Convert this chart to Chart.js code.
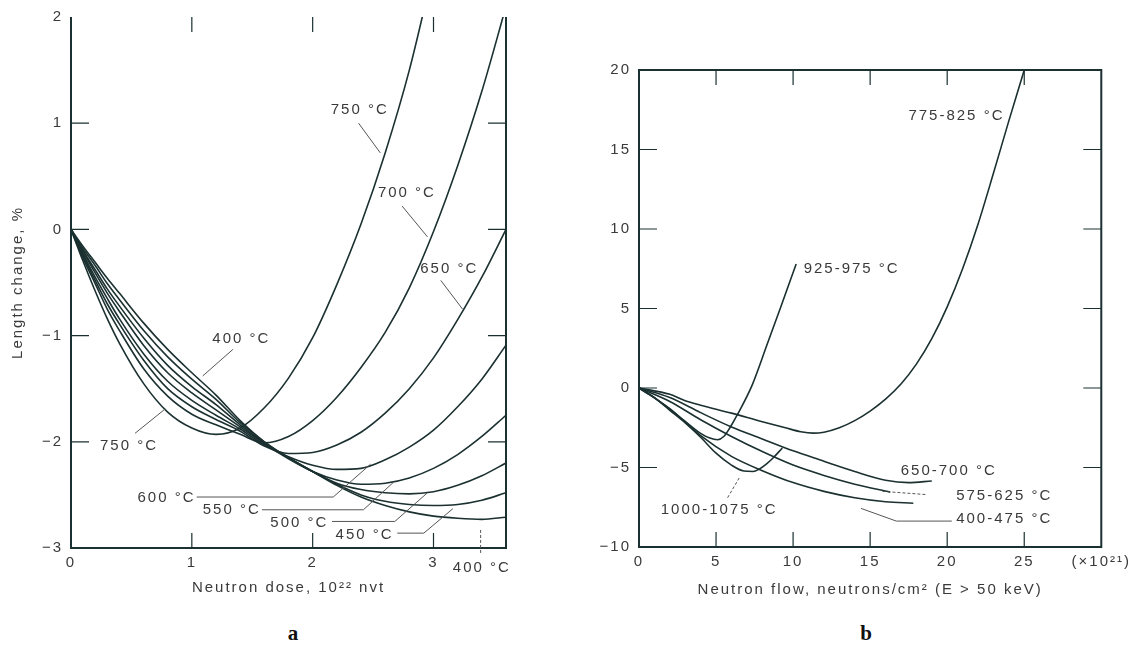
<!DOCTYPE html>
<html>
<head>
<meta charset="utf-8">
<script src="https://cdn.jsdelivr.net/npm/chart.js@4.4.1/dist/chart.umd.min.js"></script>
<style>
  body { margin: 0; background: #fff; width: 1130px; height: 648px; overflow: hidden; position: relative; }
  canvas { position: absolute; top: 0; }
  #panelA { left: 0; }
  #panelB { left: 560px; }
  .tag { position: absolute; top: 621px; font: bold 21px 'Liberation Serif', 'DejaVu Serif', serif; transform: translateX(-50%); color: #111; }
</style>
</head>
<body>
<canvas id="panelA" width="560" height="600"></canvas>
<canvas id="panelB" width="570" height="600"></canvas>
<div class="tag" style="left:293px">a</div>
<div class="tag" style="left:866px">b</div>
<script>
// panel a: length change (%) vs neutron dose (10^22 nvt), one curve per temperature
const doseGrid = [0, 0.1, 0.2, 0.3, 0.4, 0.6, 0.8, 1.0, 1.2, 1.4, 1.6, 1.8, 2.0, 2.2, 2.4, 2.6, 2.8, 3.0, 3.2, 3.4, 3.6];
const change400 = [0, -0.16, -0.31, -0.46, -0.60, -0.88, -1.13, -1.35, -1.56, -1.80, -2.00, -2.15, -2.28, -2.41, -2.52, -2.60, -2.66, -2.70, -2.72, -2.73, -2.71];
const change450 = [0, -0.18, -0.34, -0.51, -0.66, -0.95, -1.20, -1.41, -1.60, -1.82, -2.00, -2.15, -2.28, -2.40, -2.50, -2.56, -2.59, -2.60, -2.59, -2.55, -2.48];
const change500 = [0, -0.20, -0.38, -0.56, -0.72, -1.02, -1.28, -1.48, -1.65, -1.84, -2.01, -2.15, -2.28, -2.39, -2.45, -2.48, -2.49, -2.47, -2.41, -2.32, -2.20];
const change550 = [0, -0.21, -0.41, -0.60, -0.77, -1.09, -1.35, -1.54, -1.70, -1.86, -2.02, -2.16, -2.28, -2.36, -2.40, -2.39, -2.34, -2.25, -2.12, -1.95, -1.75];
const change600 = [0, -0.23, -0.45, -0.65, -0.84, -1.17, -1.43, -1.61, -1.75, -1.88, -2.03, -2.14, -2.22, -2.26, -2.25, -2.17, -2.05, -1.89, -1.67, -1.41, -1.09];
const change650 = [0, -0.25, -0.48, -0.70, -0.89, -1.23, -1.50, -1.67, -1.79, -1.90, -2.04, -2.11, -2.10, -2.03, -1.91, -1.73, -1.50, -1.21, -0.85, -0.45, 0.00];
const change700 = [0, -0.27, -0.51, -0.75, -0.95, -1.31, -1.57, -1.74, -1.84, -1.93, -2.01, -1.95, -1.80, -1.58, -1.30, -0.97, -0.55, -0.02, 0.60, 1.30, 2.10];
const change750 = [0, -0.30, -0.58, -0.84, -1.07, -1.45, -1.72, -1.87, -1.93, -1.87, -1.68, -1.40, -1.02, -0.52, 0.05, 0.72, 1.50, 2.45, null, null, null];
const doseTicks = [0, 1, 2, 3];
const changeTicksA = [-3, -2, -1, 0, 1, 2];

// panel b: length change (%) vs neutron flow (10^21 n/cm2)
const flow775 = [0, 2, 3, 4, 6, 8, 9.5, 10.5, 11.3, 12, 13, 14, 15, 16, 17, 18, 19, 20, 21, 22, 23, 24, 25];
const chg775 = [0, -0.4, -0.8, -1.08, -1.58, -2.12, -2.5, -2.75, -2.84, -2.78, -2.5, -2.05, -1.45, -0.7, 0.25, 1.5, 3.1, 5.1, 7.5, 10.3, 13.5, 16.8, 20];
const flow925 = [0, 1, 2, 3, 4, 4.6, 5.1, 5.5, 5.9, 6.4, 7.35, 8.3, 9.2, 10.2];
const chg925 = [0, -0.6, -1.35, -2.1, -2.85, -3.15, -3.25, -3.05, -2.5, -1.65, 0.2, 2.7, 5.1, 7.8];
const flow1000 = [0, 1, 2, 3, 4, 5, 6, 6.8, 7.4, 7.8, 8.3, 8.7, 9.3];
const chg1000 = [0, -0.6, -1.4, -2.2, -3.1, -4.1, -4.85, -5.22, -5.25, -5.1, -4.75, -4.4, -3.77];
const flow650 = [0, 2, 4, 6, 8, 10, 12, 14, 16, 17.5, 19];
const chg650 = [0, -0.6, -1.55, -2.45, -3.2, -3.95, -4.6, -5.25, -5.8, -5.95, -5.85];
const flow575 = [0, 2, 4, 6, 8, 10, 12, 14, 16.3];
const chg575 = [0, -0.85, -2.0, -3.05, -4.0, -4.85, -5.5, -6.05, -6.55];
const flow400 = [0, 2, 4, 6, 8, 10, 12, 14, 16, 17.8];
const chg400 = [0, -1.3, -3.0, -4.3, -5.2, -5.95, -6.5, -6.9, -7.15, -7.25];
const flowTicks = [0, 5, 10, 15, 20, 25, 30];
const changeTicksB = [-10, -5, 0, 5, 10, 15, 20];

// labels and leader lines, in data units
const notesA = [
    { text: '750 °C', at: [2.39, 1.13], path: [[2.38, 1.0], [2.56, 0.72]] },
    { text: '700 °C', at: [2.78, 0.34], path: [[2.74, 0.22], [2.95, -0.07]] },
    { text: '650 °C', at: [3.13, -0.37], path: [[3.06, -0.48], [3.24, -0.75]] },
    { text: '400 °C', at: [1.41, -1.03], path: [[1.34, -1.13], [1.09, -1.38]] },
    { text: '750 °C', at: [0.48, -2.04], path: [[0.53, -1.92], [0.78, -1.69]] },
    { text: '600 °C', at: [0.79, -2.53], path: [[1.04, -2.52], [2.17, -2.52], [2.48, -2.21]] },
    { text: '550 °C', at: [1.33, -2.64], path: [[1.58, -2.64], [2.42, -2.64], [2.67, -2.38]] },
    { text: '500 °C', at: [1.89, -2.76], path: [[2.16, -2.75], [2.68, -2.75], [2.95, -2.48]] },
    { text: '450 °C', at: [2.43, -2.88], path: [[2.70, -2.86], [2.92, -2.86], [3.16, -2.63]] },
    { text: '400 °C', at: [3.40, -3.19], path: [[3.39, -2.83], [3.39, -3.05]], dash: true }
];
const notesB = [
    { text: '775-825 °C', at: [20.6, 17.1] },
    { text: '925-975 °C', at: [13.8, 7.5] },
    { text: '650-700 °C', at: [20.1, -5.22] },
    { text: '575-625 °C', at: [23.7, -6.8], path: [[15.8, -6.5], [18.6, -6.7]], dash: true },
    { text: '400-475 °C', at: [23.7, -8.25], path: [[14.4, -7.57], [16.7, -8.37], [20.3, -8.37]] },
    { text: '1000-1075 °C', at: [5.2, -7.67], path: [[5.75, -6.9], [6.5, -5.66]], dash: true }
];

const ink = '#1b3030';
const font = "'Liberation Sans', Arial, sans-serif";
Chart.defaults.font.family = font;
Chart.defaults.font.size = 15;
Chart.defaults.color = '#3a3a3a';
Chart.defaults.animation = false;

function pairs(xs, ys) {
    return xs.map((x, i) => ({ x: x, y: ys[i] })).filter(p => p.y !== null);
}

function curve(xs, ys) {
    return {
        data: pairs(xs, ys),
        borderColor: ink,
        borderWidth: 1.6,
        pointRadius: 0,
        fill: false,
        cubicInterpolationMode: 'monotone'
    };
}

function minus(v) {
    return v < 0 ? '\u2212' + (-v) : String(v);
}

// frame, inward tick marks and the curve labels
function makeFrame(cfg) {
    return {
        id: 'frame',
        beforeDraw(chart) {
            chart.ctx.letterSpacing = '2px';
        },
        afterDraw(chart) {
            const ctx = chart.ctx;
            const a = chart.chartArea;
            const sx = chart.scales.x, sy = chart.scales.y;
            const px = v => sx.getPixelForValue(v);
            const py = v => sy.getPixelForValue(v);
            ctx.save();
            ctx.strokeStyle = ink;
            ctx.lineWidth = 2;
            ctx.beginPath();
            if (cfg.closed) {
                ctx.rect(a.left, a.top, a.right - a.left, a.bottom - a.top);
            } else {
                ctx.moveTo(a.left, a.top);
                ctx.lineTo(a.left, a.bottom);
                ctx.lineTo(a.right, a.bottom);
                ctx.lineTo(a.right, a.top);
            }
            ctx.stroke();

            ctx.lineWidth = 1.2;
            ctx.beginPath();
            cfg.xMarks.forEach(v => {
                const x = px(v);
                ctx.moveTo(x, a.bottom); ctx.lineTo(x, a.bottom - 15);
                ctx.moveTo(x, a.top); ctx.lineTo(x, a.top + 15);
            });
            cfg.yMarks.forEach(v => {
                const y = py(v);
                ctx.moveTo(a.left, y); ctx.lineTo(a.left + 18, y);
                ctx.moveTo(a.right, y); ctx.lineTo(a.right - 18, y);
            });
            ctx.stroke();

            ctx.font = '15px ' + font;
            ctx.fillStyle = '#3a3a3a';
            ctx.textAlign = 'center';
            ctx.textBaseline = 'middle';
            cfg.notes.forEach(n => {
                ctx.fillText(n.text, px(n.at[0]), py(n.at[1]));
                if (n.path) {
                    ctx.save();
                    ctx.strokeStyle = '#555';
                    ctx.lineWidth = 1;
                    ctx.setLineDash(n.dash ? [3, 2] : []);
                    ctx.beginPath();
                    n.path.forEach((p, i) => {
                        if (i) ctx.lineTo(px(p[0]), py(p[1]));
                        else ctx.moveTo(px(p[0]), py(p[1]));
                    });
                    ctx.stroke();
                    ctx.restore();
                }
            });
            ctx.restore();
        }
    };
}

function setTicks(list) {
    return s => { s.ticks = list.map(v => ({ value: v })); };
}

new Chart(document.getElementById('panelA'), {
    type: 'line',
    data: {
        datasets: [change400, change450, change500, change550, change600, change650, change700, change750]
            .map(ys => curve(doseGrid, ys))
    },
    options: {
        responsive: false,
        layout: { padding: { top: 13, right: 54, left: 0, bottom: 0 } },
        plugins: { legend: { display: false }, tooltip: { enabled: false } },
        scales: {
            x: {
                type: 'linear', min: 0, max: 3.6,
                grid: { display: false, drawTicks: false }, border: { display: false },
                afterBuildTicks: setTicks(doseTicks),
                afterFit: s => { s.height = 52; },
                ticks: { padding: 6, maxRotation: 0, autoSkip: false },
                title: { display: true, text: 'Neutron dose, 10²² nvt', padding: { top: 0, bottom: 3 } }
            },
            y: {
                min: -3, max: 2,
                grid: { display: false, drawTicks: false }, border: { display: false },
                afterBuildTicks: setTicks(changeTicksA),
                afterFit: s => { s.width = 71; },
                ticks: { padding: 8, autoSkip: false, callback: v => minus(v) },
                title: { display: true, text: 'Length change, %', padding: { top: 9, bottom: 0 } }
            }
        }
    },
    plugins: [makeFrame({ closed: false, xMarks: [1, 2, 3], yMarks: [-2, -1, 0, 1], notes: notesA })]
});

new Chart(document.getElementById('panelB'), {
    type: 'line',
    data: {
        datasets: [
            curve(flow775, chg775),
            curve(flow925, chg925),
            curve(flow1000, chg1000),
            curve(flow650, chg650),
            curve(flow575, chg575),
            curve(flow400, chg400)
        ]
    },
    options: {
        responsive: false,
        layout: { padding: { top: 70, right: 27, left: 0, bottom: 0 } },
        plugins: { legend: { display: false }, tooltip: { enabled: false } },
        scales: {
            x: {
                type: 'linear', min: 0, max: 30,
                grid: { display: false, drawTicks: false }, border: { display: false },
                afterBuildTicks: setTicks(flowTicks),
                afterFit: s => { s.height = 53; },
                ticks: { padding: 6, maxRotation: 0, autoSkip: false, callback: v => v === 30 ? '(×10²¹)' : String(v) },
                title: { display: true, text: 'Neutron flow, neutrons/cm² (E > 50 keV)', padding: { top: 0, bottom: 1 } }
            },
            y: {
                min: -10, max: 20,
                grid: { display: false, drawTicks: false }, border: { display: false },
                afterBuildTicks: setTicks(changeTicksB),
                afterFit: s => { s.width = 79; },
                ticks: { padding: 8, autoSkip: false, callback: v => minus(v) }
            }
        }
    },
    plugins: [makeFrame({ closed: true, xMarks: [5, 10, 15, 20, 25], yMarks: [-5, 0, 5, 10, 15], notes: notesB })]
});
</script>
</body>
</html>
